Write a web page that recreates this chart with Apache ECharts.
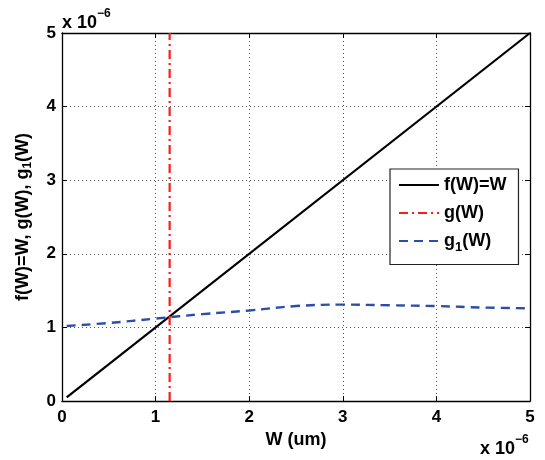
<!DOCTYPE html>
<html><head><meta charset="utf-8">
<script src="https://cdn.jsdelivr.net/npm/echarts@6/dist/echarts.min.js"></script>
<style>html,body{margin:0;padding:0;background:#fff}#c{width:545px;height:460px}</style>
</head><body><div id="c"></div>
<script>
var tickLabels = ['0','1','2','3','4','5'];
var fX = [0.05, 5];
var fY = [0.05, 5];
var gX = [1.15, 1.15];
var gY = [0, 5];
var g1X = [0.05, 0.5, 1.0, 1.5, 2.0, 2.5, 3.0, 3.5, 4.0, 4.5, 5.0];
var g1Y = [1.02, 1.06, 1.12, 1.18, 1.23, 1.29, 1.31, 1.30, 1.29, 1.27, 1.26];

function pairs(xs, ys){ return xs.map(function(x,i){return [x, ys[i]];}); }
var FONT = 'Liberation Sans, Arial, sans-serif';
var chart = echarts.init(document.getElementById('c'));
var gridLine = {show:true, lineStyle:{color:'#555', type:[1,3], width:1}};
var axisBase = {
  type:'value', min:0, max:5, interval:1,
  axisLine:{show:true, onZero:false, lineStyle:{color:'#000', width:1.3}},
  axisTick:{show:true, inside:true, length:5, lineStyle:{color:'#000'}},
};
var supRich = {
  a:{fontFamily:FONT, fontSize:18, fontWeight:'bold', fill:'#000', padding:[8,0,0,0]},
  s:{fontFamily:FONT, fontSize:12, fontWeight:'bold', fill:'#000', padding:[0,0,10,0]}
};
chart.setOption({
  animation:false,
  backgroundColor:'#fff',
  grid:{left:62, right:15, top:33, bottom:59, containLabel:false},
  legend:{
    show:true, orient:'vertical', left:390, top:169,
    backgroundColor:'#fff', borderColor:'#222', borderWidth:1.2,
    padding:[7,12,11,8], itemGap:10, itemWidth:40, itemHeight:14,
    itemStyle:{opacity:0},
    textStyle:{fontFamily:FONT, fontSize:18, fontWeight:'bold', color:'#000',
      rich:{
        a:{fontFamily:FONT, fontSize:18, fontWeight:'bold', color:'#000'},
        s:{fontFamily:FONT, fontSize:13, fontWeight:'bold', color:'#000', padding:[12,0,0,0]}
      }},
    formatter:function(n){
      if(n==='g1(W)') return '{a|g}{s|1}{a|(W)}';
      return '{a|'+n+'}';
    },
    data:['f(W)=W','g(W)','g1(W)']
  },
  xAxis:[
    Object.assign({}, axisBase, {
      position:'bottom',
      name:'W (um)', nameLocation:'middle', nameGap:29,
      nameTextStyle:{fontFamily:FONT, fontSize:18, fontWeight:'bold', color:'#000'},
      axisLabel:{fontFamily:FONT, fontSize:17, fontWeight:'bold', color:'#000', margin:8,
        formatter:function(v){return tickLabels[Math.round(v)];}},
      splitLine:gridLine
    }),
    Object.assign({}, axisBase, {position:'top', axisLabel:{show:false}, splitLine:{show:false}})
  ],
  yAxis:[
    Object.assign({}, axisBase, {
      position:'left',
      name:'{a|f(W)=W, g(W), g}{s|1}{a|(W)}', nameLocation:'middle', nameGap:28, nameRotate:90,
      nameTextStyle:{fontFamily:FONT, fontSize:18, fontWeight:'bold', color:'#000',
        rich:{
          a:{fontFamily:FONT, fontSize:18, fontWeight:'bold', color:'#000'},
          s:{fontFamily:FONT, fontSize:12, fontWeight:'bold', color:'#000', padding:[10,0,0,0]}
        }},
      axisLabel:{fontFamily:FONT, fontSize:17, fontWeight:'bold', color:'#000', margin:6,
        formatter:function(v){return tickLabels[Math.round(v)];}},
      splitLine:gridLine
    }),
    Object.assign({}, axisBase, {position:'right', axisLabel:{show:false}, splitLine:{show:false}})
  ],
  graphic:[
    {type:'text', left:62, top:8, style:{text:'{a|x 10}{s|−6}', rich:supRich}},
    {type:'text', left:480, top:434, style:{text:'{a|x 10}{s|−6}', rich:supRich}}
  ],
  series:[
    {name:'f(W)=W', type:'line', symbol:'none', data:pairs(fX,fY),
      lineStyle:{color:'#000', width:2.2, type:'solid'}, itemStyle:{color:'#000'}},
    {name:'g(W)', type:'line', symbol:'none', data:pairs(gX,gY),
      lineStyle:{color:'#ff1a1a', width:2.2, type:[9,4,2,4]}, itemStyle:{color:'#ff1a1a'}},
    {name:'g1(W)', type:'line', symbol:'none', smooth:0.4, data:pairs(g1X,g1Y),
      lineStyle:{color:'#2a4fa8', width:2.4, type:[9,6]}, itemStyle:{color:'#2a4fa8'}}
  ]
});
</script></body></html>
